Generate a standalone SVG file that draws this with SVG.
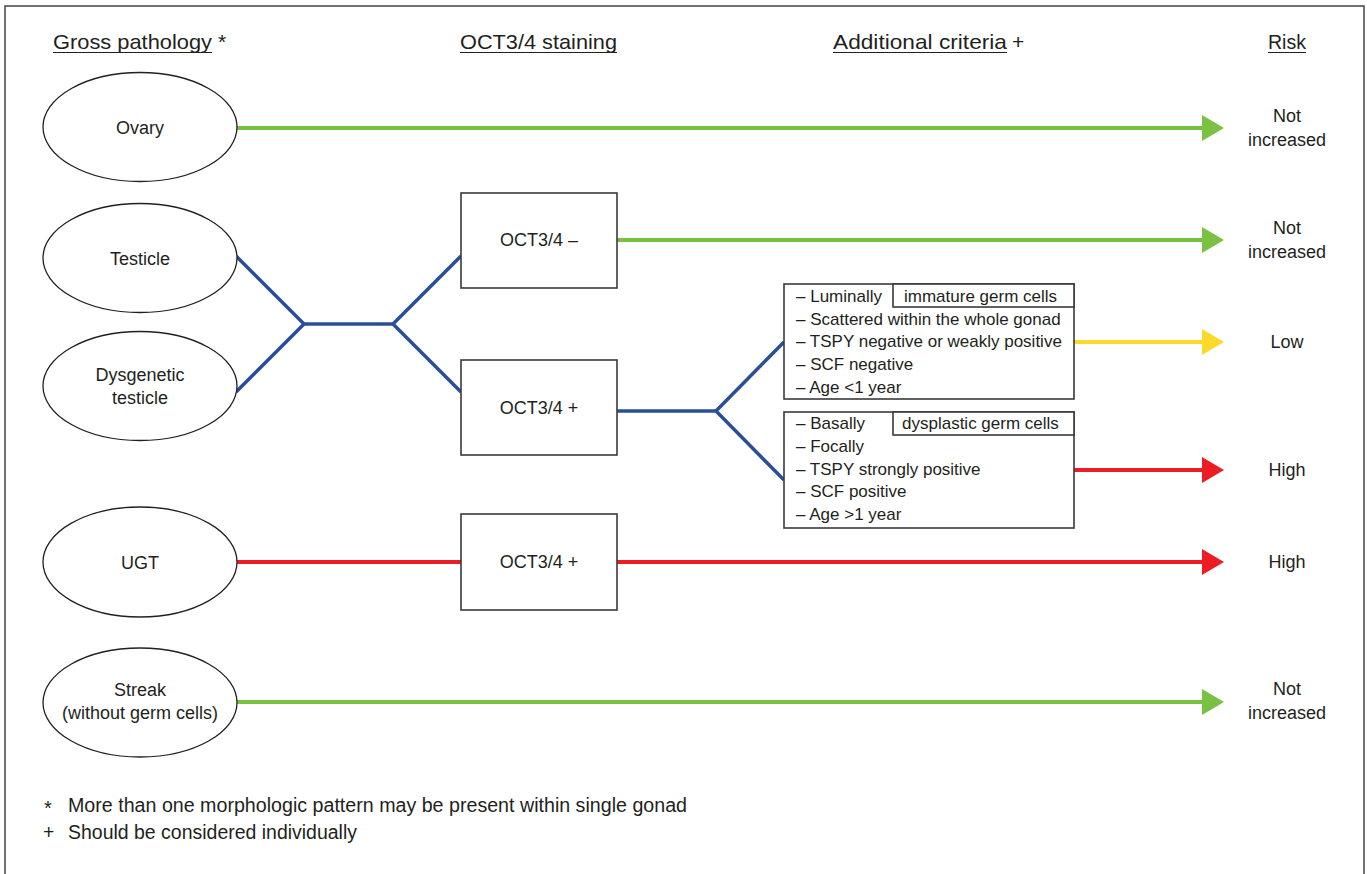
<svg xmlns="http://www.w3.org/2000/svg" width="1367" height="874" viewBox="0 0 1367 874">
<style>
text{font-family:"Liberation Sans",Arial,sans-serif;fill:#231f20}
.h{font-size:21px}
.n{font-size:18px;text-anchor:middle}
.c{font-size:17px}
.f{font-size:19.5px}
.node{fill:#fff;stroke:#231f20;stroke-width:1.3}
.box{fill:#fff;stroke:#3a3a3a;stroke-width:1.6}
.ul{stroke:#231f20;stroke-width:1.2}
.g{stroke:#7ac143;stroke-width:4;fill:none}
.b{stroke:#2a4f98;stroke-width:3.5;fill:none;stroke-linejoin:miter}
.y{stroke:#fdd92b;stroke-width:4;fill:none}
.r{stroke:#ed1c24;stroke-width:4;fill:none}
</style>
<defs>
<marker id="ag" viewBox="0 0 22 26" refX="0" refY="13" markerWidth="22" markerHeight="26" markerUnits="userSpaceOnUse" orient="auto"><path d="M0,0 L22,13 L0,26 Z" fill="#7ac143"/></marker>
<marker id="ay" viewBox="0 0 22 26" refX="0" refY="13" markerWidth="22" markerHeight="26" markerUnits="userSpaceOnUse" orient="auto"><path d="M0,0 L22,13 L0,26 Z" fill="#fdd92b"/></marker>
<marker id="ar" viewBox="0 0 22 26" refX="0" refY="13" markerWidth="22" markerHeight="26" markerUnits="userSpaceOnUse" orient="auto"><path d="M0,0 L22,13 L0,26 Z" fill="#ed1c24"/></marker>
</defs>
<rect x="0" y="0" width="1367" height="874" fill="#fff"/>
<rect x="5" y="6" width="1359" height="900" fill="none" stroke="#444" stroke-width="1.5"/>

<g id="headers">
<text class="h" x="53" y="49" textLength="159" lengthAdjust="spacingAndGlyphs">Gross pathology</text>
<text class="h" x="218" y="49">*</text>
<line class="ul" x1="53" y1="52.5" x2="212" y2="52.5"/>
<text class="h" x="460" y="49" textLength="157" lengthAdjust="spacingAndGlyphs">OCT3/4 staining</text>
<line class="ul" x1="460" y1="52.5" x2="617" y2="52.5"/>
<text class="h" x="833" y="49" textLength="174" lengthAdjust="spacingAndGlyphs">Additional criteria</text>
<text class="h" x="1012" y="49">+</text>
<line class="ul" x1="833" y1="52.5" x2="1007" y2="52.5"/>
<text class="h" x="1268" y="49" textLength="38" lengthAdjust="spacingAndGlyphs">Risk</text>
<line class="ul" x1="1268" y1="52.5" x2="1306" y2="52.5"/>
</g>

<g id="connectors">
<line class="g" x1="237" y1="128" x2="1202" y2="128" marker-end="url(#ag)"/>
<line class="g" x1="617" y1="240" x2="1202" y2="240" marker-end="url(#ag)"/>
<polyline class="b" points="236,256 304,324 236,392"/>
<line class="b" x1="304" y1="324" x2="393" y2="324"/>
<polyline class="b" points="461,256 393,324 461,392"/>
<line class="b" x1="617" y1="411" x2="716" y2="411"/>
<polyline class="b" points="784,342 716,411 784,480"/>
<line class="y" x1="1074" y1="342" x2="1202" y2="342" marker-end="url(#ay)"/>
<line class="r" x1="1074" y1="470" x2="1202" y2="470" marker-end="url(#ar)"/>
<line class="r" x1="237" y1="562" x2="461" y2="562"/>
<line class="r" x1="617" y1="562" x2="1202" y2="562" marker-end="url(#ar)"/>
<line class="g" x1="237" y1="702" x2="1202" y2="702" marker-end="url(#ag)"/>
</g>

<g id="ovary">
<ellipse class="node" cx="140" cy="127" rx="97" ry="54.5"/>
<text class="n" x="140" y="134">Ovary</text>
</g>
<g id="testicle">
<ellipse class="node" cx="140" cy="258" rx="97" ry="54.5"/>
<text class="n" x="140" y="265">Testicle</text>
</g>
<g id="dysgenetic">
<ellipse class="node" cx="140" cy="386" rx="97" ry="54.5"/>
<text class="n" x="140" y="381">Dysgenetic</text>
<text class="n" x="140" y="404">testicle</text>
</g>
<g id="ugt">
<ellipse class="node" cx="140" cy="562" rx="97" ry="55"/>
<text class="n" x="140" y="569">UGT</text>
</g>
<g id="streak">
<ellipse class="node" cx="140" cy="702.5" rx="97" ry="54.5"/>
<text class="n" x="140" y="696">Streak</text>
<text class="n" x="140" y="719">(without germ cells)</text>
</g>

<g id="oct-neg">
<rect class="box" x="461" y="193" width="156" height="95"/>
<text class="n" x="539" y="246">OCT3/4 –</text>
</g>
<g id="oct-pos">
<rect class="box" x="461" y="360" width="156" height="95"/>
<text class="n" x="539" y="414">OCT3/4 +</text>
</g>
<g id="oct-pos-ugt">
<rect class="box" x="461" y="514" width="156" height="96"/>
<text class="n" x="539" y="568">OCT3/4 +</text>
</g>

<g id="immature">
<rect class="box" x="784" y="284" width="290" height="115"/>
<rect class="box" x="893" y="284" width="181" height="23"/>
<text class="c" x="904" y="302">immature germ cells</text>
<text class="c" x="796" y="302">– Luminally</text>
<text class="c" x="796" y="325">– Scattered within the whole gonad</text>
<text class="c" x="796" y="347">– TSPY negative or weakly positive</text>
<text class="c" x="796" y="370">– SCF negative</text>
<text class="c" x="796" y="393">– Age &lt;1 year</text>
</g>
<g id="dysplastic">
<rect class="box" x="784" y="412" width="290" height="116"/>
<rect class="box" x="893" y="412" width="181" height="23"/>
<text class="c" x="902" y="429">dysplastic germ cells</text>
<text class="c" x="796" y="429">– Basally</text>
<text class="c" x="796" y="452">– Focally</text>
<text class="c" x="796" y="475">– TSPY strongly positive</text>
<text class="c" x="796" y="497">– SCF positive</text>
<text class="c" x="796" y="520">– Age &gt;1 year</text>
</g>

<g id="risk">
<text class="n" x="1287" y="122">Not</text>
<text class="n" x="1287" y="146">increased</text>
<text class="n" x="1287" y="234">Not</text>
<text class="n" x="1287" y="258">increased</text>
<text class="n" x="1287" y="348">Low</text>
<text class="n" x="1287" y="476">High</text>
<text class="n" x="1287" y="568">High</text>
<text class="n" x="1287" y="695">Not</text>
<text class="n" x="1287" y="719">increased</text>
</g>

<g id="footnotes">
<text x="44" y="815" style="font-size:20px">*</text>
<text class="f" x="68" y="812" textLength="619" lengthAdjust="spacingAndGlyphs">More than one morphologic pattern may be present within single gonad</text>
<text class="f" x="43" y="839">+</text>
<text class="f" x="68" y="839" textLength="289" lengthAdjust="spacingAndGlyphs">Should be considered individually</text>
</g>
</svg>
